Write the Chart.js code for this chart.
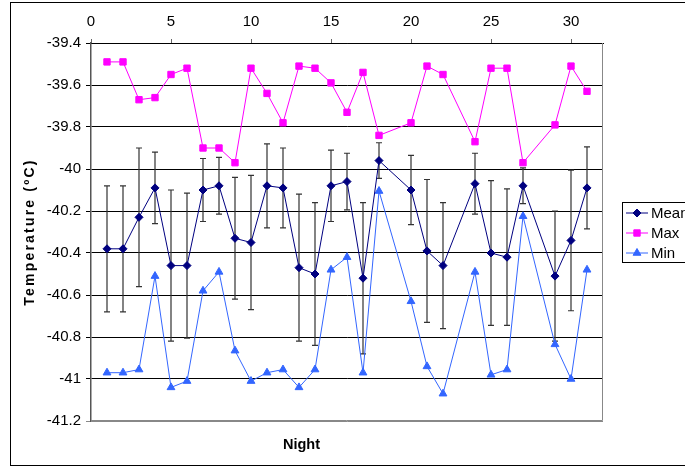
<!DOCTYPE html>
<html>
<head>
<meta charset="utf-8">
<script src="https://cdn.jsdelivr.net/npm/chart.js@4.4.1/dist/chart.umd.min.js"></script>
<style>
  html, body { margin: 0; padding: 0; background: #fff; overflow: hidden; }
  #wrap { width: 685px; height: 467px; }
</style>
</head>
<body>
<div id="wrap"><canvas id="chart" width="685" height="467"></canvas></div>
<script>
// nights 1..31, null where no reading
const nights = [1, 2, 3, 4, 5, 6, 7, 8, 9, 10, 11, 12, 13, 14, 15, 16, 17, 18, 19, 20, 21, 22, 23, 24, 25, 26, 27, 28, 29, 30, 31];
const meanVals = [-40.38, -40.38, -40.23, -40.09, -40.46, -40.46, -40.10, -40.08, -40.33, -40.35, -40.08, -40.09, -40.47, -40.50, -40.08, -40.06, -40.52, -39.96, null, -40.10, -40.39, -40.46, null, -40.07, -40.40, -40.42, -40.08, null, -40.51, -40.34, -40.09];
const meanErr = [0.30, 0.30, 0.33, 0.17, 0.36, 0.345, 0.15, 0.135, 0.29, 0.32, 0.20, 0.19, 0.35, 0.34, 0.17, 0.135, 0.36, 0.085, null, 0.165, 0.34, 0.30, null, 0.145, 0.345, 0.325, 0.085, null, 0.31, 0.335, 0.195];
const maxVals = [-39.49, -39.49, -39.67, -39.66, -39.55, -39.52, -39.90, -39.90, -39.97, -39.52, -39.64, -39.78, -39.51, -39.52, -39.59, -39.73, -39.54, -39.84, null, -39.78, -39.51, -39.55, null, -39.87, -39.52, -39.52, -39.97, null, -39.79, -39.51, -39.63];
const minVals = [-40.97, -40.97, -40.955, -40.51, -41.04, -41.01, -40.58, -40.49, -40.865, -41.01, -40.97, -40.955, -41.04, -40.955, -40.48, -40.42, -40.97, -40.105, null, -40.63, -40.94, -41.07, null, -40.49, -40.98, -40.955, -40.225, null, -40.835, -41.00, -40.48];
const seriesNames = ['Mean', 'Max', 'Min'];
const xTickMin = 0, xTickMax = 32, xTickStep = 5;
const yTickMin = -41.2, yTickMax = -39.4, yTickStep = 0.2;

const FONT = '"Liberation Sans", Arial, sans-serif';

function toPoints(vals) {
    return nights.map((n, i) => ({ x: n, y: vals[i] })).filter(p => p.y !== null);
}

// error bars on the Mean series
const errorBars = {
    id: 'errorBars',
    beforeDatasetsDraw(chart) {
        const { ctx, scales: { x, y } } = chart;
        ctx.save();
        ctx.strokeStyle = '#333';
        ctx.lineWidth = 1.2;
        nights.forEach((n, i) => {
            if (meanVals[i] === null) return;
            const px = x.getPixelForValue(n);
            const top = y.getPixelForValue(meanVals[i] + meanErr[i]);
            const bot = y.getPixelForValue(meanVals[i] - meanErr[i]);
            ctx.beginPath();
            ctx.moveTo(px, top); ctx.lineTo(px, bot);
            ctx.moveTo(px - 3, top); ctx.lineTo(px + 3, top);
            ctx.moveTo(px - 3, bot); ctx.lineTo(px + 3, bot);
            ctx.stroke();
        });
        ctx.restore();
    }
};

// outer frame, plot border, legend box
const frame = {
    id: 'frame',
    beforeDraw(chart) {
        const ctx = chart.ctx;
        // the y title in the original is spaced out a little
        const ys = chart.scales.y;
        if (ys && !ys._spaced) {
            const orig = ys.drawTitle;
            ys.drawTitle = function () {
                ctx.letterSpacing = '2.2px';
                orig.apply(this, arguments);
                ctx.letterSpacing = '0px';
            };
            ys._spaced = true;
        }
        ctx.save();
        ctx.fillStyle = '#fff';
        ctx.fillRect(0, 0, chart.width, chart.height);
        ctx.strokeStyle = '#000';
        ctx.lineWidth = 1;
        ctx.strokeRect(10.5, 2.5, 800, 463);
        ctx.restore();
    },
    afterDraw(chart) {
        const { ctx, chartArea: a } = chart;
        ctx.save();
        ctx.strokeStyle = '#888';
        ctx.lineWidth = 1;
        ctx.beginPath();
        ctx.moveTo(a.right - 0.5, a.top);
        ctx.lineTo(a.right - 0.5, a.bottom - 0.5);
        ctx.lineTo(a.left, a.bottom - 0.5);
        ctx.stroke();

        // legend
        ctx.strokeStyle = '#000';
        ctx.strokeRect(622.5, 202.5, 120, 60);
        chart.data.datasets.forEach((ds, i) => {
            const cy = 213 + i * 20;
            ctx.strokeStyle = ds.borderColor;
            ctx.lineWidth = 1;
            ctx.beginPath();
            ctx.moveTo(626, cy); ctx.lineTo(648, cy);
            ctx.stroke();
            ctx.fillStyle = ds.pointBackgroundColor;
            if (Chart.helpers && Chart.helpers.drawPoint) {
                Chart.helpers.drawPoint(ctx, { pointStyle: ds.pointStyle, radius: ds.pointRadius, borderWidth: 1, rotation: 0 }, 637, cy);
            }
            ctx.fillStyle = '#000';
            ctx.font = '15px ' + FONT;
            ctx.textBaseline = 'middle';
            ctx.textAlign = 'left';
            ctx.fillText(ds.label, 651, cy + 1);
        });
        ctx.restore();
    }
};

new Chart(document.getElementById('chart'), {
    type: 'line',
    data: {
        datasets: [
            {
                label: seriesNames[0],
                data: toPoints(meanVals),
                borderColor: '#000080',
                backgroundColor: '#000080',
                pointBackgroundColor: '#000080',
                pointBorderColor: '#000080',
                pointStyle: 'rectRot',
                pointRadius: 4,
                borderWidth: 1,
                tension: 0
            },
            {
                label: seriesNames[1],
                data: toPoints(maxVals),
                borderColor: '#FF00FF',
                backgroundColor: '#FF00FF',
                pointBackgroundColor: '#FF00FF',
                pointBorderColor: '#FF00FF',
                pointStyle: 'rect',
                pointRadius: 4.5,
                borderWidth: 1,
                tension: 0
            },
            {
                label: seriesNames[2],
                data: toPoints(minVals),
                borderColor: '#3366FF',
                backgroundColor: '#3366FF',
                pointBackgroundColor: '#3366FF',
                pointBorderColor: '#3366FF',
                pointStyle: 'triangle',
                pointRadius: 4.5,
                borderWidth: 1,
                tension: 0
            }
        ]
    },
    options: {
        responsive: false,
        animation: false,
        events: [],
        layout: { padding: { left: 0, top: 0, right: 82, bottom: 0 } },
        plugins: {
            legend: { display: false },
            tooltip: { enabled: false },
            title: {
                display: true,
                position: 'bottom',
                text: 'Night',
                color: '#000',
                font: { family: FONT, size: 14.5, weight: 'bold', lineHeight: 1.2 },
                padding: { top: 15, bottom: 13.6 }
            }
        },
        scales: {
            x: {
                type: 'linear',
                position: 'top',
                min: xTickMin,
                max: xTickMax,
                afterFit: (s) => { s.height = 43; },
                ticks: {
                    stepSize: xTickStep,
                    includeBounds: false,
                    color: '#000',
                    padding: 8,
                    maxRotation: 0,
                    font: { family: FONT, size: 15 }
                },
                grid: { drawOnChartArea: false, drawTicks: true, tickLength: 4, color: '#666' },
                border: { display: true, color: '#000', width: 1 }
            },
            y: {
                type: 'linear',
                min: yTickMin,
                max: yTickMax,
                afterFit: (s) => { s.width = 91; },
                ticks: {
                    stepSize: yTickStep,
                    color: '#000',
                    padding: 5,
                    font: { family: FONT, size: 15 },
                    callback: (v) => String(Number(v.toFixed(1)))
                },
                grid: {
                    color: (c) => (c.tick && c.tick.value <= yTickMin + 0.01) ? '#888' : '#000',
                    lineWidth: 1,
                    tickLength: 5
                },
                border: { display: true, color: '#555', width: 1.5 },
                title: {
                    display: true,
                    text: 'Temperature (ºC)',
                    color: '#000',
                    font: { family: FONT, size: 14, weight: 'bold', lineHeight: 1.2 },
                    padding: { top: 22, bottom: 0 }
                }
            }
        }
    },
    plugins: [errorBars, frame]
});
</script>
</body>
</html>
